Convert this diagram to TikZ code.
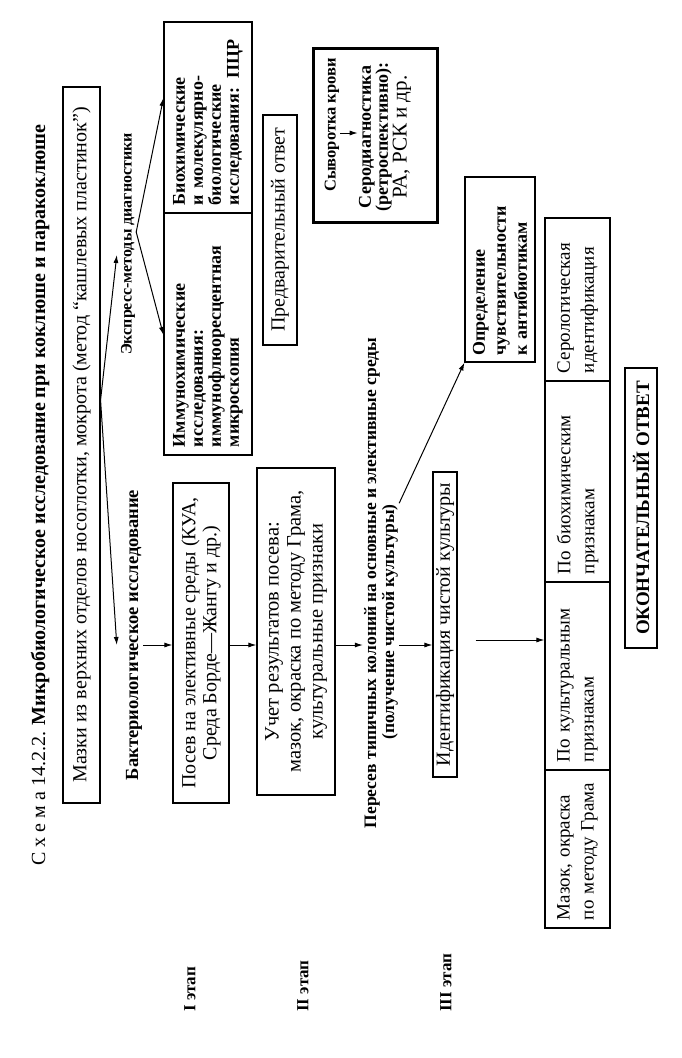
\documentclass[tikz,border=0pt]{standalone}
\usepackage{fontspec}
\setmainfont{Liberation Serif}
\usetikzlibrary{arrows.meta,calc}
\newcommand\fs[2]{\fontsize{#1}{#2}\selectfont}
\tikzset{
 box/.style={draw, line width=1.1pt, rotate=90, inner sep=0pt, font=\fs{20}{21}, align=center},
 tbox/.style={box, line width=3pt},
 lbl/.style={rotate=90, inner sep=1pt},
 arr/.style={-{Latex[length=8pt,width=5pt]}, line width=1pt},
 brow/.style={box, align=left, font=\fs{19}{24}, minimum height=65pt},
 lbox/.style={box, align=left, font=\bfseries\fs{18}{18}},
}
\begin{document}
\begin{tikzpicture}[x=1pt,y=-1pt]
\useasboundingbox (0,0) rectangle (681,1058);
\fill[white] (0,0) rectangle (681,1058);

% title
\node[lbl, font=\fs{20}{21}] (title) at (40,495) {С х е м а 14.2.2. \textbf{Микробиологическое исследование при коклюше и паракоклюше}};

% stage I
\node[box, minimum width=716pt, minimum height=37pt] (mazki) at (81.5,445) {Мазки из верхних отделов носоглотки, мокрота (метод “кашлевых пластинок”)};
\node[lbl, font=\bfseries\fs{16}{17}] (expr) at (128,244) {Экспресс-методы диагностики};
\node[lbl, font=\bfseries\fs{18.5}{19}] (bakt) at (134,635) {Бактериологическое исследование};

\node[lbox, minimum width=191pt, minimum height=88pt, text width=175pt] (bio) at (208,117.5) {Биохимические\\ и молекулярно-\\ биологические\\ исследования: ПЦР};
\node[lbox, minimum width=242pt, minimum height=88pt, text width=226pt] (imm) at (208,334) {Иммунохимические\\ исследования:\\ иммунофлюоресцентная\\ микроскопия};
\node[box, minimum width=230pt, minimum height=34pt] (predv) at (280,230) {Предварительный ответ};

\node[box, minimum width=320pt, minimum height=56pt] (posev) at (201,643) {Посев на элективные среды (КУА,\\ Среда Борде—Жангу и др.)};

% serology
\node[tbox, minimum width=174pt, minimum height=124pt] (syvbox) at (375,135) {};
\node[lbl, font=\bfseries\fs{16.5}{17}] (syv) at (332,125) {Сыворотка крови};
\node[lbl, font=\fs{18}{17}, align=center] (sero) at (385,137) {\textbf{Серодиагностика}\\ \textbf{(ретроспективно):}\\ {\fs{21}{19}РА, РСК и др.}};

% stage II
\node[box, font=\fs{20.5}{22}, minimum width=327pt, minimum height=78pt] (uchet) at (296,631.5) {Учет результатов посева:\\ мазок, окраска по методу Грама,\\ культуральные признаки};
\node[lbl, font=\bfseries\fs{17.5}{18}] (pera) at (372,583) {Пересев типичных колоний на основные и элективные среды};
\node[lbl, font=\bfseries\fs{17.5}{18}] (perb) at (390,622) {(получение чистой культуры)};

% stage III
\node[box, minimum width=305pt, minimum height=24pt] (ident) at (445,624.5) {Идентификация чистой культуры};
\node[lbox, font=\bfseries\fs{18}{21}, minimum width=185pt, minimum height=70pt, text width=172pt] (opr) at (500,269.5) {Определение\\ чувствительности\\ к антибиотикам};

\node[brow, minimum width=158pt, text width=142pt] (mazok) at (577.5,849) {Мазок, окраска\\ по методу Грама};
\node[brow, minimum width=188pt, text width=172pt] (kult) at (577.5,676) {По культуральным\\ признакам};
\node[brow, minimum width=201pt, text width=185pt] (bioch) at (577.5,481.5) {По биохимическим\\ признакам};
\node[brow, minimum width=163pt, text width=147pt] (serol) at (577.5,299.5) {Серологическая\\ идентификация};

\node[tbox, line width=2.5pt, font=\bfseries\fs{19}{20}, minimum width=280pt, minimum height=32pt] (okon) at (641,508) {ОКОНЧАТЕЛЬНЫЙ ОТВЕТ};

% stage labels
\node[lbl, font=\bfseries\fs{17}{18}, anchor=west] (st1) at (190,1013) {I этап};
\node[lbl, font=\bfseries\fs{17}{18}, anchor=west] (st2) at (303,1013) {II этап};
\node[lbl, font=\bfseries\fs{17}{18}, anchor=west] (st3) at (446,1013) {III этап};

% connectors
\coordinate (mz) at (mazki.south |- 0,400);
\draw[arr] (mz) -- ($(expr.north)+(-3,11)$);
\draw[arr] (mz) -- ($(bakt.north)+(-8,10)$);
\coordinate (ex) at ($(expr.south)+(0,-12)$);
\draw[arr] (ex) -- (bio.north |- 0,98);
\draw[arr] (ex) -- (imm.north |- 0,335);
\draw[arr] (bakt.south |- 0,645) -- (posev.north |- 0,645);
\draw[arr] (posev.south |- 0,645) -- (uchet.north |- 0,645);
\draw[arr] (uchet.south |- 0,645) -- (pera.north |- 0,645);
\draw[arr] (perb.south |- 0,645) -- (ident.north |- 0,645);
\draw[arr] (perb.south east) -- (opr.north west);
\draw[arr, shorten <=18pt] (ident.south |- 0,640) -- (kult.north |- 0,640);
\draw[arr] (syv.south |- 0,133) -- (sero.north |- 0,133);
\end{tikzpicture}
\end{document}
